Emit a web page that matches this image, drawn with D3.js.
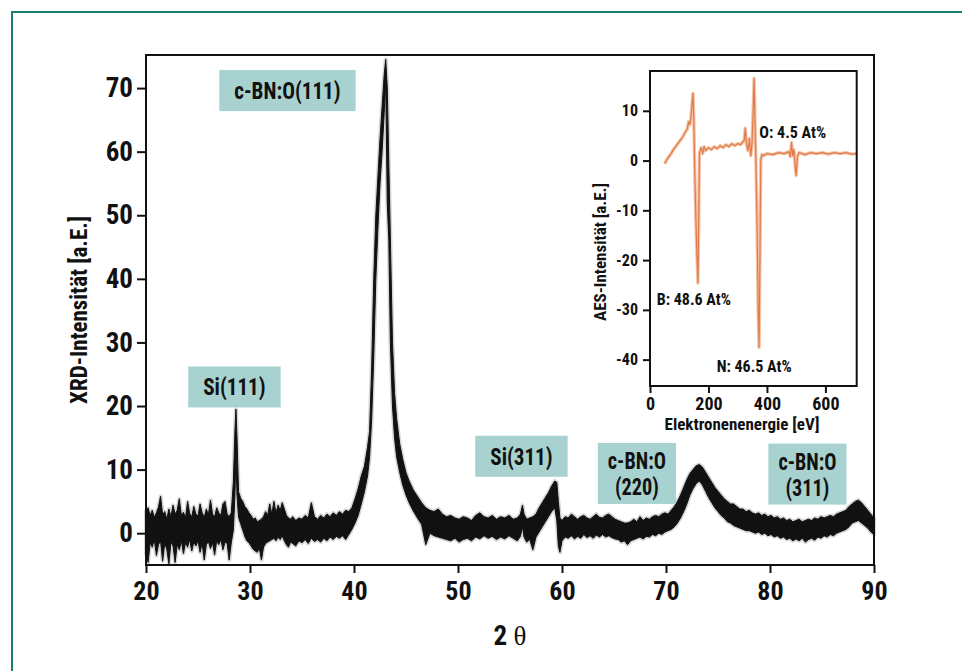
<!DOCTYPE html>
<html>
<head>
<meta charset="utf-8">
<script src="https://cdn.jsdelivr.net/npm/d3@7"></script>
<style>
  html, body { margin: 0; padding: 0; background: #fff; }
  svg { display: block; }
</style>
</head>
<body>
<div id="chart"></div>
<script>
// XRD trace: [2theta, lower edge, upper edge] of the noisy band
const xrdBand = [
  [20.0,-3.0,3.5],[20.2,-4.6,4.0],[20.4,-1.5,2.8],[20.6,-2.2,3.6],[20.8,-1.0,2.5],
  [21.0,-3.5,3.2],[21.2,-1.8,4.1],[21.4,-1.2,5.8],[21.6,-4.4,2.9],[21.8,-1.6,3.4],
  [22.0,-2.5,2.2],[22.2,-4.8,3.8],[22.4,-1.4,2.6],[22.6,-2.0,4.4],[22.8,-4.6,3.0],
  [23.0,-1.8,3.6],[23.2,-2.6,5.4],[23.4,-1.2,2.8],[23.6,-3.2,3.3],[23.8,-1.5,2.4],
  [24.0,-2.2,5.0],[24.2,-1.0,3.1],[24.4,-2.8,2.6],[24.6,-1.4,4.2],[24.8,-2.0,3.0],
  [25.0,-1.2,2.7],[25.2,-3.0,4.6],[25.4,-1.6,3.2],[25.6,-4.2,2.5],[25.8,-1.8,3.8],
  [26.0,-1.3,2.9],[26.2,-2.4,5.2],[26.4,-1.5,3.0],[26.6,-3.4,2.6],[26.8,-1.2,4.0],
  [27.0,-1.8,3.2],[27.2,-1.0,2.8],[27.4,-2.6,4.6],[27.6,-1.4,5.0],[27.8,-1.6,3.0],
  [28.0,-4.2,2.6],[28.2,-1.5,3.2],[28.4,0.5,8.0],[28.55,6,16],[28.65,12,19.5],
  [28.75,6,15],[28.9,2.5,6.5],[29.1,1.5,5.5],[29.3,0.5,5.0],[29.5,-0.5,4.2],
  [29.7,-1.2,3.8],[29.9,-1.5,3.2],[30.1,-2.0,2.8],[30.3,-2.5,2.2],[30.5,-2.8,2.4],
  [30.7,-3.0,1.8],[30.9,-2.4,2.0],[31.1,-4.2,2.2],[31.3,-2.2,2.6],[31.5,-1.6,3.4],
  [31.7,-1.4,2.8],[31.9,-1.2,4.6],[32.1,-1.0,3.0],[32.3,-0.8,5.0],[32.5,-1.2,3.2],
  [32.7,-0.6,4.4],[32.9,-1.0,3.6],[33.1,-0.4,4.8],[33.3,-1.2,3.8],[33.5,-1.8,2.8],
  [33.7,-2.2,2.4],[33.9,-1.4,2.2],[34.1,-1.6,2.6],[34.4,-2.0,2.0],[34.7,-1.2,2.4],
  [35.0,-1.5,2.2],[35.3,-1.0,2.8],[35.6,-1.6,2.4],[35.9,-0.8,4.8],[36.2,-1.3,2.6],
  [36.5,-1.0,2.2],[36.8,-1.4,2.8],[37.1,-0.8,2.4],[37.4,-1.2,3.0],[37.7,-0.6,2.6],
  [38.0,-1.0,3.2],[38.3,-0.5,2.8],[38.6,-0.8,3.4],[38.9,-0.4,3.0],[39.2,-1.0,3.6],
  [39.5,-0.2,3.4],[39.8,0.6,4.0],[40.1,1.6,5.4],[40.4,2.8,7.0],[40.7,4.6,9.0],
  [41.0,6.5,10.5],[41.3,9.0,13.5],[41.5,12,16],[41.7,18,26],[41.9,28,40],
  [42.1,40,50],[42.3,48,56],[42.5,55,62],[42.7,60,67],[42.9,66,72],
  [43.05,71,74.5],[43.2,52,70],[43.35,46,58],[43.5,30,46],[43.7,20,30],
  [43.9,15,22],[44.1,12,18],[44.4,9.5,14],[44.7,7.5,11.5],[45.0,6,9.5],
  [45.3,4.8,8.2],[45.7,3.5,6.8],[46.1,2.4,5.8],[46.5,1.4,4.8],[46.9,-1.8,4.0],
  [47.3,0.0,3.6],[47.7,-0.4,3.4],[48.1,-0.6,3.8],[48.5,-0.8,3.0],[48.9,-1.0,2.6],
  [49.3,-1.2,2.8],[49.7,-0.8,2.4],[50.1,-1.4,2.2],[50.5,-1.0,2.6],[50.9,-0.8,2.4],
  [51.3,-1.2,2.0],[51.7,-0.6,2.8],[52.1,-0.9,3.2],[52.5,-0.4,2.6],[52.9,-0.8,2.4],
  [53.3,-0.5,2.8],[53.7,-1.0,2.2],[54.1,-0.6,2.6],[54.5,-0.9,2.4],[54.9,-0.4,2.8],
  [55.3,-0.8,2.2],[55.7,-1.2,2.4],[56.0,-0.5,3.0],[56.2,1.0,4.4],[56.35,-0.6,3.0],
  [56.6,-1.4,2.2],[56.9,-1.0,2.4],[57.2,-2.6,2.6],[57.5,-0.6,3.0],[57.8,0.2,4.0],
  [58.1,1.0,4.8],[58.4,1.8,5.6],[58.7,2.6,6.4],[59.0,3.4,7.4],[59.3,4.0,8.2],
  [59.5,2.0,8.0],[59.65,-2.0,5.0],[59.8,-3.0,2.4],[60.0,-1.2,2.0],[60.3,-0.6,2.6],
  [60.6,-0.8,2.4],[60.9,-0.4,3.0],[61.2,-0.9,2.6],[61.5,-0.5,2.2],[61.8,-0.8,2.6],
  [62.1,-0.2,2.8],[62.4,-0.7,2.4],[62.7,-0.4,2.2],[63.0,-0.8,2.6],[63.3,-0.3,3.0],
  [63.6,-0.6,2.5],[63.9,-0.2,2.4],[64.2,-0.6,2.8],[64.5,-0.4,3.0],[64.8,-0.7,2.6],
  [65.1,-0.9,2.2],[65.4,-1.0,2.0],[65.7,-1.4,1.8],[66.0,-1.2,1.6],[66.3,-1.8,1.6],
  [66.6,-1.2,1.8],[66.9,-1.0,2.2],[67.2,-0.8,1.8],[67.5,-0.6,2.6],[67.8,-0.9,2.0],
  [68.1,-0.5,2.4],[68.4,-0.6,2.2],[68.7,-0.2,2.6],[69.0,-0.4,2.8],[69.3,0.0,2.6],
  [69.6,-0.2,3.0],[69.9,0.2,3.2],[70.2,0.4,3.0],[70.5,0.6,3.6],[70.8,1.0,4.2],
  [71.1,1.6,5.0],[71.4,2.4,6.0],[71.7,3.4,7.2],[72.0,4.6,8.4],[72.3,6.0,9.4],
  [72.6,7.0,10.0],[72.9,7.8,10.6],[73.2,8.2,10.8],[73.5,7.6,10.4],[73.8,6.6,9.6],
  [74.1,5.6,8.8],[74.4,4.8,8.0],[74.7,4.0,7.2],[75.0,3.4,6.6],[75.3,2.8,6.0],
  [75.6,2.4,5.4],[75.9,1.8,5.0],[76.2,1.6,4.6],[76.5,1.2,4.6],[76.8,1.0,4.2],
  [77.1,0.8,3.8],[77.4,0.6,3.8],[77.7,0.4,3.4],[78.0,0.4,3.6],[78.3,0.2,3.2],
  [78.6,0.0,3.0],[78.9,0.2,3.2],[79.2,-0.2,2.8],[79.5,0.0,3.0],[79.8,-0.4,2.6],
  [80.1,-0.2,2.8],[80.4,-0.6,2.4],[80.7,-0.4,2.6],[81.0,-0.8,2.2],[81.3,-0.6,2.4],
  [81.6,-1.0,2.0],[81.9,-0.8,2.2],[82.2,-1.2,1.8],[82.5,-0.9,2.0],[82.8,-1.2,2.2],
  [83.1,-0.8,1.8],[83.4,-1.4,2.0],[83.7,-1.0,2.2],[84.0,-0.8,2.0],[84.3,-1.1,2.4],
  [84.6,-0.6,2.2],[84.9,-0.8,2.6],[85.2,-0.4,2.4],[85.5,-0.6,2.6],[85.8,-0.2,2.8],
  [86.1,-0.4,2.6],[86.4,0.0,3.0],[86.7,0.2,3.2],[87.0,0.4,3.4],[87.3,0.6,3.6],
  [87.6,1.0,4.2],[87.9,1.6,4.6],[88.2,1.8,5.0],[88.5,2.0,5.2],[88.8,1.6,4.8],
  [89.1,1.2,4.2],[89.4,0.8,3.6],[89.7,0.2,3.0],[90.0,-0.2,2.4]
];
const xrdTicksX = [20, 30, 40, 50, 60, 70, 80, 90];
const xrdTicksY = [0, 10, 20, 30, 40, 50, 60, 70];

// peak labels: text lines and centre in data units (2theta, intensity)
const peakText = [['c-BN:O(111)'], ['Si(111)'], ['Si(311)'], ['c-BN:O', '(220)'], ['c-BN:O', '(311)']];
const peakAt = [[33.6, 69.6], [28.5, 23.0], [56.1, 12.1], [67.2, 9.4], [83.6, 9.3]];

// AES inset
const aesEnergy = [50,60,70,80,90,100,110,120,128,132,136,140,144,147,150,153,157,160,164,167,169,
  175,180,185,190,200,210,220,230,240,250,260,270,280,290,300,310,318,322,326,330,335,340,345,349,
  353,356,359,362,366,370,373,376,379,383,390,400,420,440,460,475,480,484,488,492,497,500,504,
  510,530,550,570,590,610,630,650,670,690,705];
const aesIntensity = [-0.6,0.4,1.2,2.2,3.0,3.8,4.6,5.6,6.4,7.8,7.2,8.6,11.5,13.5,8,-2,-12,-18,-24.6,-10,1.5,
  2.6,1.4,2.8,2.0,2.6,2.2,2.8,2.4,3.0,2.6,3.2,2.8,3.4,3.0,3.4,3.2,3.8,4.0,6.5,3.4,2.0,4.4,1.0,3.6,
  10,16.5,8,0.5,-12,-30,-37.5,-20,0.2,1.2,1.0,1.4,1.2,1.6,1.4,1.8,0.8,3.6,1.0,2.2,-1.5,-3.0,0.8,
  1.6,1.2,1.6,1.4,1.6,1.3,1.6,1.4,1.6,1.3,1.4];
const aesTicksX = [0, 200, 400, 600];
const aesTicksY = [10, 0, -10, -20, -30, -40];
const aesNotes = ['B: 48.6 At%', 'N: 46.5 At%', 'O: 4.5 At%'];
const aesNoteAt = [[23, -29], [228, -42.4], [374, 4.5]];

const W = 962, H = 671;
const FONT = "'Liberation Sans Narrow', 'Arial Narrow', 'Roboto Condensed', 'DejaVu Sans Condensed', sans-serif";
const INK = '#111';

const svg = d3.select('#chart').append('svg')
  .attr('width', W)
  .attr('height', H);

// green frame, runs off the page on the right and bottom
svg.append('rect')
  .attr('x', 12).attr('y', 12)
  .attr('width', 1000).attr('height', 700)
  .attr('fill', 'none')
  .attr('stroke', '#1b7f6e')
  .attr('stroke-width', 2);

const x = d3.scaleLinear().domain([20, 90]).range([146, 874]);
const y = d3.scaleLinear().domain([-5, 75.2]).range([565, 55]);

// trace: soft grey halo, then the black band
const band = d3.area()
  .x(d => x(d[0]))
  .y0(d => y(d[1]))
  .y1(d => y(d[2]));

svg.append('path')
  .datum(xrdBand)
  .attr('d', band)
  .attr('fill', 'none')
  .attr('stroke', '#d6d6d6')
  .attr('stroke-width', 4)
  .attr('stroke-linejoin', 'round');

svg.append('path')
  .datum(xrdBand)
  .attr('d', band)
  .attr('fill', INK)
  .attr('stroke', INK)
  .attr('stroke-width', 1)
  .attr('stroke-linejoin', 'round');

// plot box
svg.append('rect')
  .attr('x', x(20)).attr('y', y(75.2))
  .attr('width', x(90) - x(20)).attr('height', y(-5) - y(75.2))
  .attr('fill', 'none')
  .attr('stroke', INK)
  .attr('stroke-width', 2);

function styleAxis(g, size) {
  g.select('.domain').remove();
  g.selectAll('.tick line').attr('stroke', INK).attr('stroke-width', 2);
  g.selectAll('.tick text')
    .attr('fill', INK)
    .attr('font-family', FONT)
    .attr('font-weight', 'bold')
    .attr('font-size', size);
}

svg.append('g')
  .attr('transform', `translate(${x(20)},0)`)
  .call(d3.axisLeft(y).tickValues(xrdTicksY).tickSize(9).tickPadding(4))
  .call(g => styleAxis(g, 27));

svg.append('g')
  .attr('transform', `translate(0,${y(-5)})`)
  .call(d3.axisBottom(x).tickValues(xrdTicksX).tickSize(8).tickPadding(9))
  .call(g => styleAxis(g, 26));

// axis titles
svg.append('text')
  .attr('transform', `translate(87,${(y(-5) + y(75.2)) / 2}) rotate(-90)`)
  .attr('text-anchor', 'middle')
  .attr('font-family', FONT)
  .attr('font-weight', 'bold')
  .attr('font-size', 23)
  .attr('fill', INK)
  .text('XRD-Intensität [a.E.]');

const xTitle = svg.append('text')
  .attr('x', (x(20) + x(90)) / 2)
  .attr('y', 645)
  .attr('text-anchor', 'middle')
  .attr('fill', INK);
xTitle.append('tspan')
  .attr('font-family', FONT).attr('font-weight', 'bold').attr('font-size', 27)
  .text('2 ');
xTitle.append('tspan')
  .attr('font-family', "'Liberation Serif', 'DejaVu Serif', serif").attr('font-size', 27)
  .text('θ');

// peak label boxes
peakText.forEach((lines, i) => {
  const cx = x(peakAt[i][0]), cy = y(peakAt[i][1]);
  const g = svg.append('g');
  const rect = g.append('rect').attr('fill', '#a7d2cf');
  const two = lines.length > 1;
  const lineH = 26, capH = 17;
  let tw = 0;
  lines.forEach((s, j) => {
    const t = g.append('text')
      .attr('x', cx)
      .attr('y', cy + capH / 2 + (j - (lines.length - 1) / 2) * lineH)
      .attr('text-anchor', 'middle')
      .attr('font-family', FONT)
      .attr('font-weight', 'bold')
      .attr('font-size', two ? 23 : 24)
      .attr('fill', INK)
      .text(s);
    // the original face is narrower than the installed one
    const w = t.node().getComputedTextLength() * 0.88;
    t.attr('textLength', w).attr('lengthAdjust', 'spacingAndGlyphs');
    tw = Math.max(tw, w);
  });
  const padX = two ? 10 : 15;
  const bh = two ? 61 : 41;
  rect.attr('x', cx - tw / 2 - padX).attr('y', cy - bh / 2)
    .attr('width', tw + 2 * padX).attr('height', bh);
});

// AES inset
const x2 = d3.scaleLinear().domain([0, 707]).range([650, 856.7]);
const y2 = d3.scaleLinear().domain([-45.3, 18]).range([386, 71]);

svg.append('rect')
  .attr('x', x2(0)).attr('y', y2(18))
  .attr('width', x2(707) - x2(0)).attr('height', y2(-45.3) - y2(18))
  .attr('fill', '#fff');

const aesLine = d3.line()
  .x((d, i) => x2(aesEnergy[i]))
  .y(d => y2(d));

svg.append('path')
  .datum(aesIntensity)
  .attr('d', aesLine)
  .attr('fill', 'none')
  .attr('stroke', '#f6c3a6')
  .attr('stroke-width', 3.4)
  .attr('stroke-linejoin', 'round');
svg.append('path')
  .datum(aesIntensity)
  .attr('d', aesLine)
  .attr('fill', 'none')
  .attr('stroke', '#df7c4c')
  .attr('stroke-width', 1.2)
  .attr('stroke-linejoin', 'round');

svg.append('rect')
  .attr('x', x2(0)).attr('y', y2(18))
  .attr('width', x2(707) - x2(0)).attr('height', y2(-45.3) - y2(18))
  .attr('fill', 'none')
  .attr('stroke', INK)
  .attr('stroke-width', 2);

svg.append('g')
  .attr('transform', `translate(${x2(0)},0)`)
  .call(d3.axisLeft(y2).tickValues(aesTicksY).tickSize(7).tickPadding(5).tickFormat(d => String(d)))
  .call(g => styleAxis(g, 16));

svg.append('g')
  .attr('transform', `translate(0,${y2(-45.3)})`)
  .call(d3.axisBottom(x2).tickValues(aesTicksX).tickSize(7).tickPadding(4))
  .call(g => styleAxis(g, 18));

svg.append('text')
  .attr('x', 742).attr('y', 430)
  .attr('text-anchor', 'middle')
  .attr('font-family', FONT).attr('font-weight', 'bold').attr('font-size', 17)
  .attr('fill', INK)
  .text('Elektronenenergie [eV]');

svg.append('text')
  .attr('transform', `translate(606,252) rotate(-90)`)
  .attr('text-anchor', 'middle')
  .attr('font-family', FONT).attr('font-weight', 'bold').attr('font-size', 17)
  .attr('fill', INK)
  .text('AES-Intensität [a.E.]');

aesNotes.forEach((s, i) => {
  svg.append('text')
    .attr('x', x2(aesNoteAt[i][0]))
    .attr('y', y2(aesNoteAt[i][1]))
    .attr('font-family', FONT).attr('font-weight', 'bold').attr('font-size', 16)
    .attr('fill', INK)
    .text(s);
});
</script>
</body>
</html>
